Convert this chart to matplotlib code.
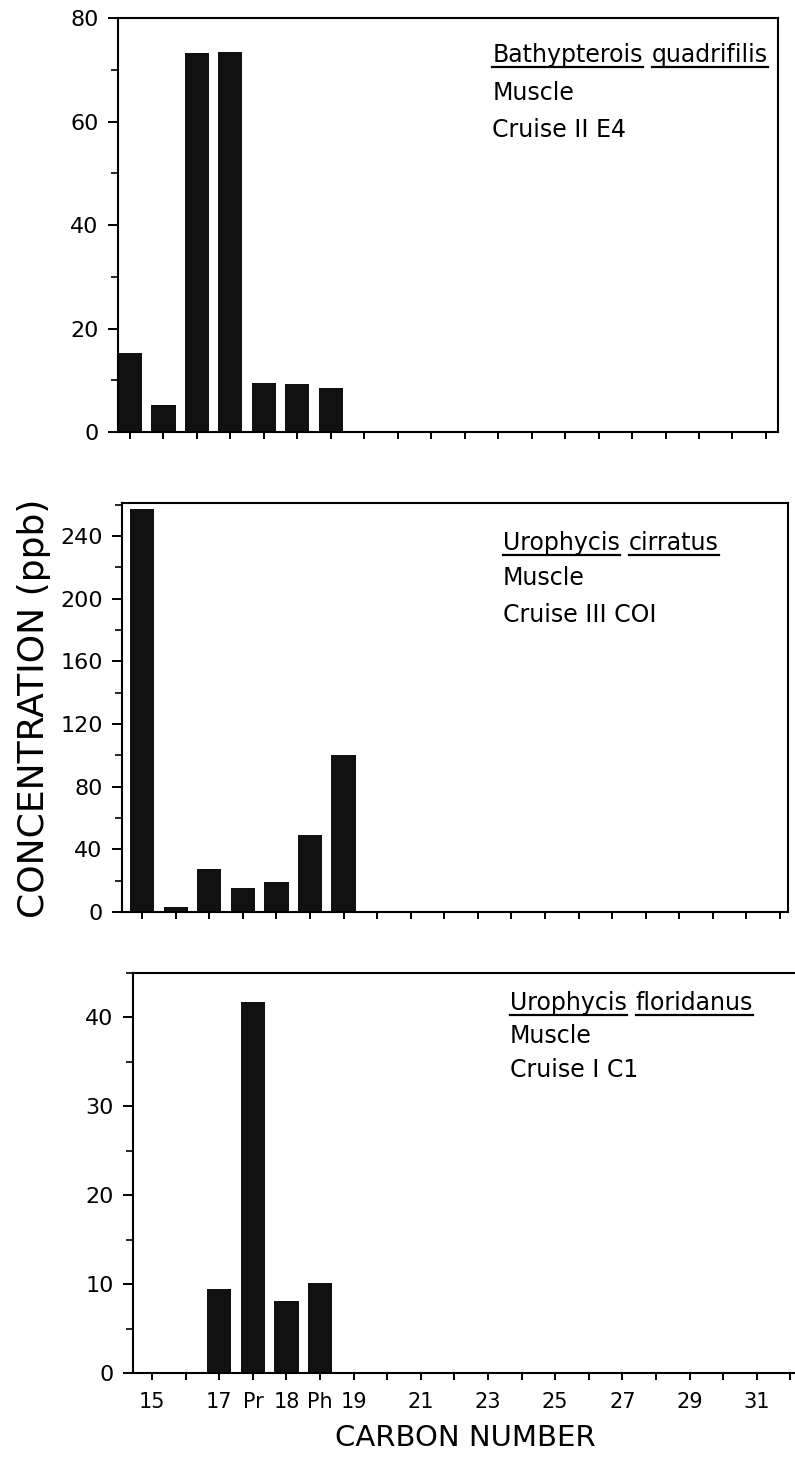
import matplotlib
matplotlib.use('Agg')
import matplotlib.pyplot as plt
from matplotlib.ticker import MultipleLocator
from matplotlib.lines import Line2D

# carbon number categories on the x axis (Pr = pristane, Ph = phytane)
categories = ['15', '16', '17', 'Pr', '18', 'Ph', '19', '20', '21', '22', '23',
              '24', '25', '26', '27', '28', '29', '30', '31', '32']
tick_labels = ['15', '', '17', 'Pr', '18', 'Ph', '19', '', '21', '', '23',
               '', '25', '', '27', '', '29', '', '31', '']

# concentrations (ppb) for 15,16,17,Pr,18,Ph,19
bathypterois = [15.3, 5.2, 73.2, 73.5, 9.4, 9.3, 8.5]
cirratus = [257, 3, 27.4, 15.3, 19.3, 49, 100]
floridanus = [0, 0, 9.5, 41.7, 8.1, 10.1, 0]

species = [('Bathypterois', 'quadrifilis'), ('Urophycis', 'cirratus'), ('Urophycis', 'floridanus')]
tissue = ['Muscle', 'Muscle', 'Muscle']
cruise = ['Cruise II E4', 'Cruise III COI', 'Cruise I C1']

plt.rcParams['font.family'] = 'DejaVu Sans'
fig = plt.figure(figsize=(7.95, 14.7), dpi=100)

# axes boxes in figure fraction (left, bottom, width, height)
boxes = [[0.1484, 0.7061, 0.8302, 0.2816],
         [0.1535, 0.3796, 0.8377, 0.2782],
         [0.1673, 0.0660, 0.8327, 0.2721]]
xlims = [(-0.36, 19.36), (-0.6, 19.24), (-0.57, 19.14)]
ylims = [80, 261, 45]
major = [20, 40, 10]
minor = [10, 20, 5]
data = [bathypterois, cirratus, floridanus]
txt_x = [0.567, 0.572, 0.5695]
txt_y = [[0.894, 0.802, 0.713], [0.885, 0.800, 0.709], [0.9075, 0.825, 0.74]]

axes = []
for i in range(3):
    ax = fig.add_axes(boxes[i])
    axes.append(ax)
    vals = data[i]
    ax.bar(range(len(vals)), vals, width=0.72, color='#111111', linewidth=0)
    ax.set_xlim(*xlims[i])
    ax.set_ylim(0, ylims[i])
    ax.set_xticks(range(len(categories)))
    if i == 2:
        ax.set_xticklabels(tick_labels, fontsize=15)
    else:
        ax.set_xticklabels([])
    ax.yaxis.set_major_locator(MultipleLocator(major[i]))
    ax.yaxis.set_minor_locator(MultipleLocator(minor[i]))
    ax.tick_params(axis='y', which='major', labelsize=16, length=7, width=1.4, pad=7)
    ax.tick_params(axis='y', which='minor', length=5, width=1.2)
    ax.tick_params(axis='x', which='major', length=5, width=1.4, pad=9)
    for s in ax.spines.values():
        s.set_linewidth(1.5)
    if i == 2:
        ax.spines['right'].set_visible(False)

    ax.text(txt_x[i], txt_y[i][1], tissue[i], transform=ax.transAxes,
            fontsize=17, va='baseline', ha='left')
    ax.text(txt_x[i], txt_y[i][2], cruise[i], transform=ax.transAxes,
            fontsize=17, va='baseline', ha='left')

# species names, each word underlined on its own
fig.canvas.draw()
renderer = fig.canvas.get_renderer()
for i, ax in enumerate(axes):
    w1, w2 = species[i]
    t1 = ax.text(txt_x[i], txt_y[i][0], w1, transform=ax.transAxes,
                 fontsize=17, va='baseline', ha='left')
    b1 = t1.get_window_extent(renderer)
    bx, by = ax.transAxes.transform((txt_x[i], txt_y[i][0]))
    x2 = b1.x1 + 9
    t2 = ax.text(x2, by, w2, transform=None, fontsize=17, va='baseline', ha='left')
    b2 = t2.get_window_extent(renderer)
    for b in (b1, b2):
        fig.lines.append(Line2D([b.x0, b.x1], [by - 5, by - 5], transform=None,
                                color='black', linewidth=1.6))

fig.text(0.043, 0.518, 'CONCENTRATION (ppb)', rotation=90, fontsize=26,
         ha='center', va='center')
fig.text(0.585, 0.0218, 'CARBON NUMBER', fontsize=21, ha='center', va='center')

fig.savefig('out.png', dpi=100)
